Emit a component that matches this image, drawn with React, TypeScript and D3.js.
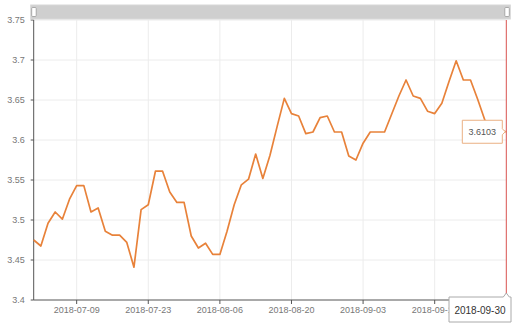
import React from "react";
import * as d3 from "d3";

const dates: string[] = [
  "2018-06-29",
  "2018-07-02", "2018-07-03", "2018-07-04", "2018-07-05", "2018-07-06",
  "2018-07-09", "2018-07-10", "2018-07-11", "2018-07-12", "2018-07-13",
  "2018-07-16", "2018-07-17", "2018-07-18", "2018-07-19", "2018-07-20",
  "2018-07-23", "2018-07-24", "2018-07-25", "2018-07-26", "2018-07-27",
  "2018-07-30", "2018-07-31", "2018-08-01", "2018-08-02", "2018-08-03",
  "2018-08-06", "2018-08-07", "2018-08-08", "2018-08-09", "2018-08-10",
  "2018-08-13", "2018-08-14", "2018-08-15", "2018-08-16", "2018-08-17",
  "2018-08-20", "2018-08-21", "2018-08-22", "2018-08-23", "2018-08-24",
  "2018-08-27", "2018-08-28", "2018-08-29", "2018-08-30", "2018-08-31",
  "2018-09-03", "2018-09-04", "2018-09-05", "2018-09-06", "2018-09-07",
  "2018-09-10", "2018-09-11", "2018-09-12", "2018-09-13", "2018-09-14",
  "2018-09-17", "2018-09-18", "2018-09-19", "2018-09-20", "2018-09-21",
  "2018-09-25", "2018-09-26", "2018-09-27", "2018-09-28", "2018-09-29",
  "2018-09-30",
];

const values: number[] = [
  3.475,
  3.4675, 3.496, 3.51, 3.501, 3.526,
  3.543, 3.543, 3.51, 3.515, 3.486,
  3.481, 3.481, 3.472, 3.441, 3.513,
  3.519, 3.561, 3.561, 3.535, 3.522,
  3.522, 3.48, 3.465, 3.471, 3.457,
  3.457, 3.486, 3.519, 3.544, 3.551,
  3.5825, 3.552, 3.581, 3.617, 3.652,
  3.633, 3.63, 3.608, 3.61, 3.628,
  3.63, 3.61, 3.61, 3.58, 3.575,
  3.596, 3.61, 3.61, 3.61, 3.6325,
  3.655, 3.675, 3.655, 3.652, 3.636,
  3.633, 3.646, 3.673, 3.699, 3.675,
  3.675, 3.651, 3.625, 3.615, 3.612,
  3.6103,
];

const yTicks: number[] = [3.4, 3.45, 3.5, 3.55, 3.6, 3.65, 3.7, 3.75];
const xTickLabels: string[] = [
  "2018-07-09", "2018-07-23", "2018-08-06", "2018-08-20", "2018-09-03", "2018-09-17",
];
const hoverDate = "2018-09-30";
const hoverValue = 3.6103;

const W = 520;
const H = 326;
const FONT = "'Liberation Sans', Arial, sans-serif";

export default function App() {
  const x = d3.scalePoint<string>().domain(dates).range([33.7, 506.3]);
  const y = d3.scaleLinear().domain([3.4, 3.75]).range([300, 20]);
  const left = 33.7;
  const right = 506.3;

  const line = d3
    .line<number>()
    .x((_, i) => x(dates[i]) as number)
    .y((d) => y(d));

  const hx = x(hoverDate) as number;
  const hy = y(hoverValue);

  const boxW = 40;
  const boxH = 23;
  const bx = hx - 4 - boxW;
  const by = hy - boxH / 2;

  const dW = 62;
  const dRight = W - 9;
  const dx = dRight - dW;
  const dTop = 297;

  return (
    <svg
      width={W}
      height={H}
      style={{ position: "absolute", left: 0, top: 0, background: "#fff" }}
      fontFamily={FONT}
    >
      {/* grid */}
      {yTicks.slice(1).map((t) => (
        <line key={"gy" + t} x1={left} x2={right} y1={y(t)} y2={y(t)} stroke="#ececec" strokeWidth={1} />
      ))}
      {xTickLabels.map((d) => (
        <line key={"gx" + d} x1={x(d)} x2={x(d)} y1={y(3.75)} y2={y(3.4)} stroke="#ececec" strokeWidth={1} />
      ))}

      {/* axes */}
      <line x1={left} x2={left} y1={y(3.75)} y2={y(3.4)} stroke="#555" strokeWidth={1} />
      <line x1={left} x2={right} y1={y(3.4)} y2={y(3.4)} stroke="#555" strokeWidth={1} />
      {yTicks.map((t) => (
        <g key={"yt" + t}>
          <line x1={left - 3} x2={left} y1={y(t)} y2={y(t)} stroke="#555" />
          <text x={left - 9} y={y(t)} dy="0.35em" textAnchor="end" fontSize={9} fill="#777">
            {t}
          </text>
        </g>
      ))}
      {xTickLabels.map((d) => (
        <g key={"xt" + d}>
          <line x1={x(d)} x2={x(d)} y1={y(3.4)} y2={y(3.4) + 4} stroke="#555" />
          <text x={x(d)} y={y(3.4) + 13} textAnchor="middle" fontSize={9} fill="#777">
            {d}
          </text>
        </g>
      ))}

      {/* line */}
      <path d={line(values) ?? ""} fill="none" stroke="#e8823a" strokeWidth={1.7} strokeLinejoin="round" />

      {/* pointer line */}
      <line x1={hx} x2={hx} y1={y(3.75)} y2={y(3.4) - 3} stroke="#d9534f" strokeWidth={1} />

      {/* data zoom slider */}
      <rect x={left - 3} y={5} width={right - left + 7} height={14} fill="#cfcfcf" stroke="#d8d8d8" />
      <rect x={left - 2} y={7.5} width={4.5} height={9} rx={1} fill="#fff" stroke="#999" strokeWidth={0.8} />
      <rect x={right - 1.5} y={7.5} width={4.5} height={9} rx={1} fill="#fff" stroke="#999" strokeWidth={0.8} />

      {/* value tooltip */}
      <path
        d={`M${bx},${by} H${bx + boxW} V${hy - 3} L${bx + boxW + 3},${hy} L${bx + boxW},${hy + 3} V${by + boxH} H${bx} Z`}
        fill="#fff"
        stroke="#eab082"
        strokeWidth={1}
      />
      <text x={bx + boxW / 2} y={hy} dy="0.35em" textAnchor="middle" fontSize={9} fill="#555">
        {hoverValue}
      </text>

      {/* date label */}
      <path
        d={`M${dx},${dTop} H${hx - 3} L${hx},${dTop - 4} L${hx + 3},${dTop} H${dRight} V${dTop + 25} H${dx} Z`}
        fill="#fff"
        stroke="#aaa"
        strokeWidth={1}
      />
      <text x={dx + dW / 2} y={dTop + 13} dy="0.35em" textAnchor="middle" fontSize={10} fill="#333">
        {hoverDate}
      </text>
    </svg>
  );
}
